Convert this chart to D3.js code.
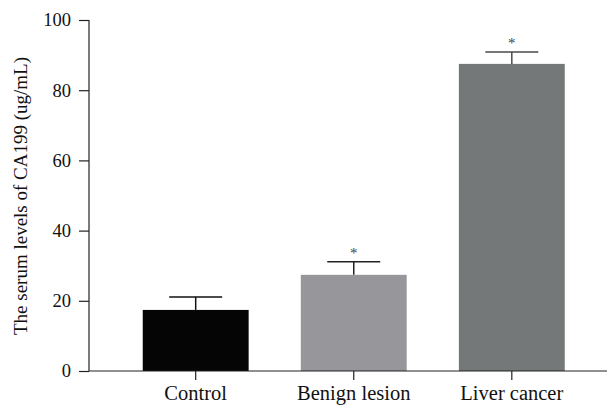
<!DOCTYPE html>
<html><head><meta charset="utf-8">
<script src="https://cdn.jsdelivr.net/npm/d3@7"></script>
<style>body{margin:0;background:#fff}</style>
</head><body>
<svg id="c" width="610" height="411"></svg>
<script>
const categories = ["Control", "Benign lesion", "Liver cancer"];
const means = [17.4, 27.4, 87.5];
const errors = [3.7, 3.7, 3.4];
const significant = [false, true, true];
const colors = ["#050505", "#97979b", "#757878"];
const errColors = ["#111111", "#222222", "#4a4a4a"];
const yTicks = [0, 20, 40, 60, 80, 100];

const svg = d3.select("#c");
const font = "'Liberation Serif', 'DejaVu Serif', serif";
const y = d3.scaleLinear().domain([0, 100]).range([371, 20]);
const x = d3.scaleBand().domain(categories).range([89, 618.5]).paddingInner(0.33).paddingOuter(0.34);

// bars
svg.selectAll("rect.bar").data(categories).enter().append("rect")
  .attr("x", d => x(d)).attr("width", x.bandwidth())
  .attr("y", (d, i) => y(means[i])).attr("height", (d, i) => y(0) - y(means[i]))
  .attr("fill", (d, i) => colors[i]);

// error bars
const capHalf = 26.5;
categories.forEach((d, i) => {
  const cx = x(d) + x.bandwidth() / 2;
  const g = svg.append("g").attr("stroke", errColors[i]).attr("stroke-width", 1.5);
  g.append("line").attr("x1", cx).attr("x2", cx).attr("y1", y(means[i])).attr("y2", y(means[i] + errors[i]));
  g.append("line").attr("x1", cx - capHalf).attr("x2", cx + capHalf).attr("y1", y(means[i] + errors[i])).attr("y2", y(means[i] + errors[i]));
  if (significant[i]) {
    svg.append("text").attr("x", cx).attr("y", y(means[i] + errors[i]) - 4)
      .attr("text-anchor", "middle").attr("font-family", font).attr("font-size", 15).attr("fill", "#444").text("*");
  }
});

// y axis
const ya = svg.append("g").attr("transform", "translate(89,0)")
  .call(d3.axisLeft(y).tickValues(yTicks).tickSize(10).tickPadding(8));
ya.selectAll("path,line").attr("stroke", "#222").attr("stroke-width", 1.2);
ya.selectAll("text").attr("font-family", font).attr("font-size", 18.5).attr("fill", "#111");
ya.select(".domain").attr("d", "M0," + y(100) + "H0V" + y(0));

// x axis
const xa = svg.append("g").attr("transform", "translate(0,371)")
  .call(d3.axisBottom(x).tickSize(9).tickPadding(5));
xa.select(".domain").remove();
xa.selectAll("line").attr("stroke", "#222").attr("stroke-width", 1.2);
xa.selectAll("text").attr("font-family", font).attr("font-size", 20.5).attr("fill", "#111");
svg.append("line").attr("x1", 89).attr("x2", 607).attr("y1", 371).attr("y2", 371).attr("stroke", "#222").attr("stroke-width", 1.2);

// y label
svg.append("text").attr("transform", "translate(27,196) rotate(-90)")
  .attr("text-anchor", "middle").attr("font-family", font).attr("font-size", 19).attr("fill", "#111")
  .text("The serum levels of CA199 (ug/mL)");
</script>
</body></html>
